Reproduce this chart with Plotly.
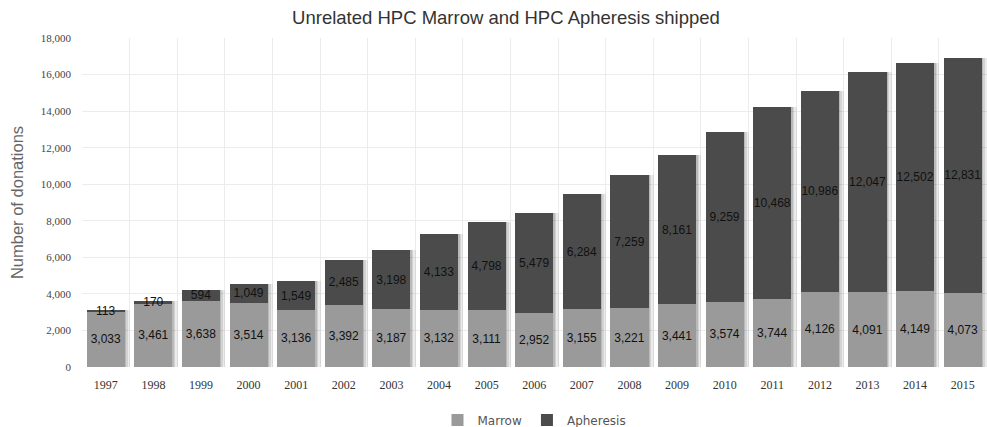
import plotly.graph_objects as go

# Unrelated HPC products shipped per year
years = ["1997", "1998", "1999", "2000", "2001", "2002", "2003", "2004", "2005", "2006",
         "2007", "2008", "2009", "2010", "2011", "2012", "2013", "2014", "2015"]
marrow = [3033, 3461, 3638, 3514, 3136, 3392, 3187, 3132, 3111, 2952,
          3155, 3221, 3441, 3574, 3744, 4126, 4091, 4149, 4073]
apheresis = [113, 170, 594, 1049, 1549, 2485, 3198, 4133, 4798, 5479,
             6284, 7259, 8161, 9259, 10468, 10986, 12047, 12502, 12831]
y_ticks = [0, 2000, 4000, 6000, 8000, 10000, 12000, 14000, 16000, 18000]
y_tick_text = ["0", "2,000", "4,000", "6,000", "8,000", "10,000", "12,000", "14,000", "16,000", "18,000"]

totals = [m + a for m, a in zip(marrow, apheresis)]

label_font = dict(family="Liberation Sans, Arial, sans-serif", size=12, color="#111")

fig = go.Figure()

# soft drop shadow behind each stacked column
for off, w, alpha in [(-0.35, 0.86, 0.08), (-0.37, 0.83, 0.10), (-0.38, 0.81, 0.12)]:
    fig.add_trace(go.Bar(
        x=years, y=totals, base=[0] * len(years),
        offset=off, width=w,
        marker=dict(color=f"rgba(0,0,0,{alpha})", line=dict(width=0)),
        showlegend=False, hoverinfo="skip",
    ))

fig.add_trace(go.Bar(
    name="Marrow", x=years, y=marrow,
    marker=dict(color="#9a9a9a", line=dict(width=0)),
    texttemplate="%{y:,}", textposition="inside", insidetextanchor="middle",
    textangle=0, constraintext="none", textfont=label_font,
    offset=-0.4, width=0.8,
))
fig.add_trace(go.Bar(
    name="Apheresis", x=years, y=apheresis,
    marker=dict(color="#4b4b4b", line=dict(width=0)),
    texttemplate="%{y:,}", textposition="inside", insidetextanchor="middle",
    textangle=0, constraintext="none", textfont=label_font,
    offset=-0.4, width=0.8,
))

fig.update_layout(
    barmode="stack",
    width=987, height=427,
    margin=dict(l=82, r=0, t=38, b=60, autoexpand=False),
    paper_bgcolor="white", plot_bgcolor="white",
    title=dict(
        text="Unrelated HPC Marrow and HPC Apheresis shipped",
        x=506 / 987, xanchor="center", y=1 - 18 / 427, yanchor="middle",
        font=dict(family="Liberation Sans, Arial, sans-serif", size=18.5, color="#333"),
    ),
    legend=dict(
        orientation="h", x=0.5, xanchor="center",
        yref="container", y=7 / 427, yanchor="middle",
        font=dict(family="DejaVu Sans, Verdana, sans-serif", size=12, color="#555"),
        traceorder="normal",
    ),
    xaxis=dict(
        type="category", tickson="boundaries",
        showgrid=True, gridcolor="#ececec", gridwidth=1,
        ticks="", showline=False,
        tickfont=dict(family="Liberation Serif, Times New Roman, serif", size=12, color="#333"),
        ticklabelstandoff=9,
    ),
    yaxis=dict(
        range=[0, 18000], tickvals=y_ticks, ticktext=y_tick_text,
        showgrid=True, gridcolor="#ececec", gridwidth=1,
        zeroline=False, showline=False, ticks="",
        tickfont=dict(family="Liberation Serif, Times New Roman, serif", size=11, color="#444"),
        ticklabelstandoff=10,
        title=dict(text="Number of donations", standoff=12,
                   font=dict(family="Liberation Sans, Arial, sans-serif", size=16.5, color="#666")),
    ),
)

fig.write_html("out.html")
